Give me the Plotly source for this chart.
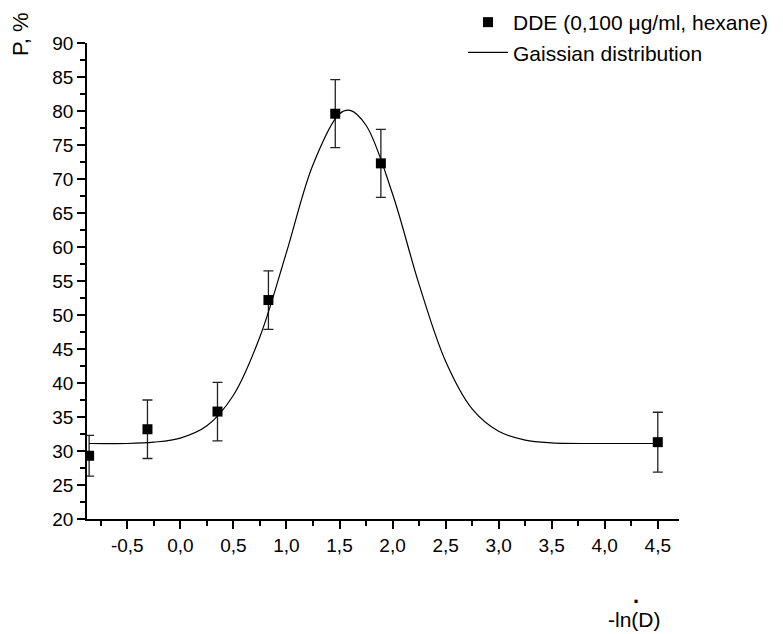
import plotly.graph_objects as go

# Measured data (DDE 0,100 ug/ml, hexane)
x_data = [-0.86, -0.31, 0.35, 0.83, 1.46, 1.89, 4.50]
y_data = [29.3, 33.2, 35.8, 52.2, 79.6, 72.3, 31.3]
y_err = [3.0, 4.3, 4.3, 4.3, 5.0, 5.0, 4.4]

# Gaussian distribution curve
curve_x = [-0.86, -0.5, -0.25, 0.0, 0.25, 0.5, 0.75, 1.0, 1.25, 1.5, 1.6,
           1.75, 2.0, 2.25, 2.5, 2.75, 3.0, 3.25, 3.5, 4.0, 4.5]
curve_y = [31.1, 31.1, 31.3, 31.9, 33.7, 38.2, 46.8, 59.2, 72.1, 79.6, 80.1,
           77.9, 67.8, 54.5, 43.2, 36.2, 32.9, 31.6, 31.2, 31.1, 31.1]

x_ticks = [-0.5, 0.0, 0.5, 1.0, 1.5, 2.0, 2.5, 3.0, 3.5, 4.0, 4.5]
x_ticktext = ["-0,5", "0,0", "0,5", "1,0", "1,5", "2,0", "2,5", "3,0", "3,5", "4,0", "4,5"]
y_ticks = [20, 25, 30, 35, 40, 45, 50, 55, 60, 65, 70, 75, 80, 85, 90]

W, H = 783, 634
L, R, T, B = 79, 112, 35, 123
pw, ph = W - L - R, H - T - B

def px(xp):
    return (xp - L) / pw

def py(yp):
    return 1 - (yp - T) / ph

FONT = "Liberation Sans, Arial, sans-serif"

fig = go.Figure()
fig.add_trace(go.Scatter(
    x=x_data, y=y_data, mode="markers",
    name="DDE (0,100 \u03bcg/ml, hexane)",
    marker=dict(symbol="square", size=10, color="black"),
    error_y=dict(type="data", array=y_err, visible=True, color="#222222",
                 thickness=1.3, width=5),
))
fig.add_trace(go.Scatter(
    x=curve_x, y=curve_y, mode="lines", name="Gaissian distribution",
    line=dict(color="black", width=1.2, shape="spline", smoothing=1.0),
))

axis_common = dict(
    showline=True, linecolor="black", linewidth=1.5, showgrid=False,
    zeroline=False, ticks="outside", ticklen=8, tickwidth=1.5,
    tickcolor="black", tickfont=dict(family=FONT, size=19, color="black"),
)
fig.update_xaxes(range=[-0.88, 4.70], tickvals=x_ticks, ticktext=x_ticktext,
                 minor=dict(tickvals=[-0.75, -0.25, 0.25, 0.75, 1.25, 1.75, 2.25,
                                      2.75, 3.25, 3.75, 4.25],
                            ticks="outside", ticklen=5, tickwidth=1.5,
                            tickcolor="black"),
                 **axis_common)
fig.update_yaxes(range=[20, 90], tickvals=y_ticks,
                 minor=dict(dtick=2.5, tick0=20, ticks="outside", ticklen=5,
                            tickwidth=1.5, tickcolor="black"),
                 **axis_common)

fig.add_annotation(text="P, %", textangle=-90, xref="paper", yref="paper",
                   x=px(12), y=py(26), xanchor="center", yanchor="middle",
                   showarrow=False, font=dict(family=FONT, size=22, color="black"))
fig.add_annotation(text="-ln(D)", xref="paper", yref="paper",
                   x=px(626), y=py(611), xanchor="center", yanchor="middle",
                   showarrow=False, font=dict(family=FONT, size=21, color="black"))
fig.add_annotation(text="<b>.</b>", xref="paper", yref="paper",
                   x=px(628), y=py(587), xanchor="center", yanchor="middle",
                   showarrow=False, font=dict(family=FONT, size=22, color="black"))

fig.update_layout(
    width=W, height=H,
    margin=dict(l=L, r=R, t=T, b=B, autoexpand=False),
    paper_bgcolor="white", plot_bgcolor="white",
    font=dict(family=FONT, size=19, color="black"),
    showlegend=True,
    legend=dict(x=px(455), y=py(-6), xanchor="left", yanchor="top",
                bgcolor="rgba(0,0,0,0)", font=dict(family=FONT, size=21, color="black"),
                itemwidth=40, tracegroupgap=0),
)

fig.write_html("out.html")
